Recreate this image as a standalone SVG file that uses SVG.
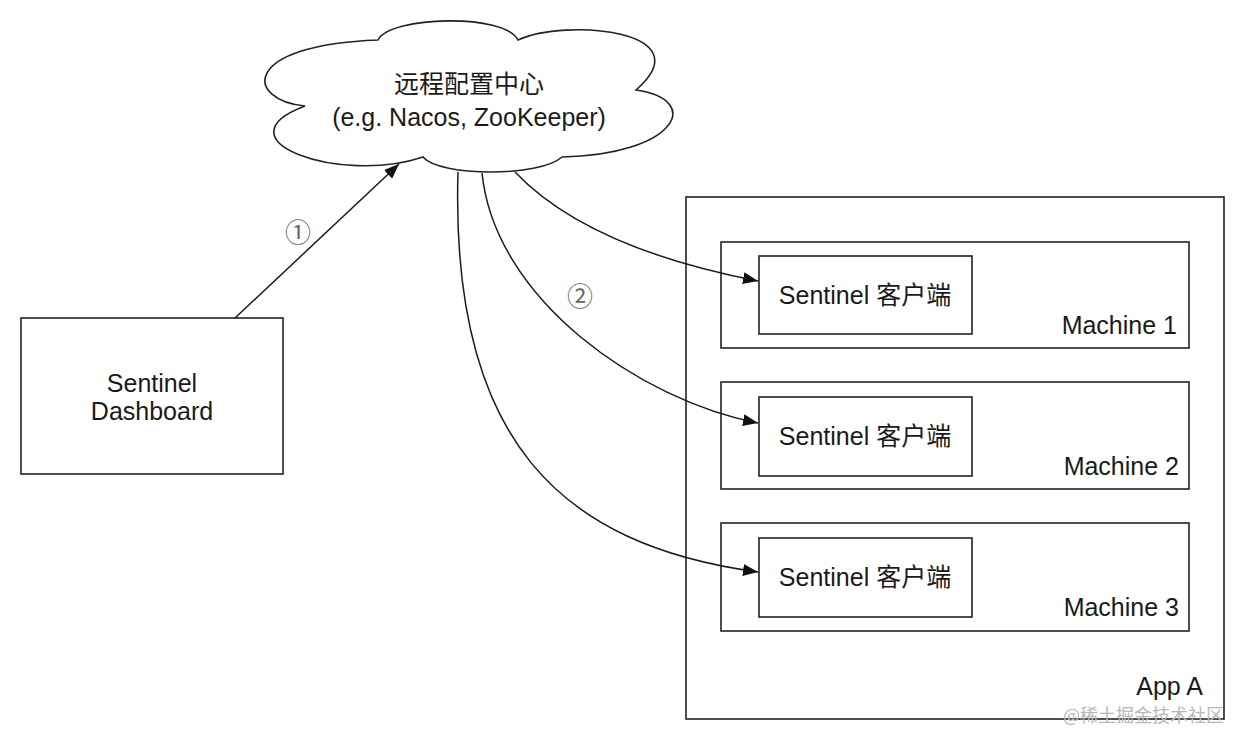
<svg xmlns="http://www.w3.org/2000/svg" width="1246" height="746" viewBox="0 0 1246 746">
<style>
.box{fill:#fff;stroke:#222;stroke-width:1.6}
.t{font-family:"Liberation Sans","Noto Sans CJK SC",sans-serif;font-size:25px;fill:#1a1a1a}
.c{text-anchor:middle}
.r{text-anchor:end}
.conn{fill:none;stroke:#1a1a1a;stroke-width:1.5}
.num{font-family:"Noto Sans CJK SC","DejaVu Sans",sans-serif;font-size:26px;fill:#666;text-anchor:middle}
.wm{font-family:"Noto Sans CJK SC",sans-serif;font-size:18px;fill:#b8b8b8}
</style>
<defs>
<marker id="arr" markerUnits="userSpaceOnUse" markerWidth="16" markerHeight="12" refX="15" refY="6" orient="auto">
<path d="M0,0 L15,6 L0,12 z" fill="#111"/>
</marker>
</defs>
<rect width="1246" height="746" fill="#fff"/>

<g id="app-a">
<rect class="box" x="686" y="197" width="538" height="522"/>
<text class="t r" x="1203" y="695">App A</text>
</g>

<g id="machine-1">
<rect class="box" x="721" y="242" width="468" height="106"/>
<text class="t r" x="1177" y="334">Machine 1</text>
</g>
<g id="client-1">
<rect class="box" x="759" y="256" width="213" height="78"/>
<text class="t c" x="865" y="304">Sentinel 客户端</text>
</g>

<g id="machine-2">
<rect class="box" x="721" y="382" width="468" height="107"/>
<text class="t r" x="1179" y="475">Machine 2</text>
</g>
<g id="client-2">
<rect class="box" x="759" y="397" width="213" height="79"/>
<text class="t c" x="865" y="445">Sentinel 客户端</text>
</g>

<g id="machine-3">
<rect class="box" x="721" y="523" width="468" height="108"/>
<text class="t r" x="1179" y="616">Machine 3</text>
</g>
<g id="client-3">
<rect class="box" x="759" y="538" width="213" height="79"/>
<text class="t c" x="865" y="586">Sentinel 客户端</text>
</g>

<g id="dashboard">
<rect class="box" x="21" y="318" width="262" height="156"/>
<text class="t c" x="152" y="392">Sentinel</text>
<text class="t c" x="152" y="420">Dashboard</text>
</g>

<g id="config-center">
<path class="box" d="M305,106 C245,100 240,45 378,40 C390,16 505,13 518,40 C565,18 705,30 636,90 C705,100 675,155 562,157 C540,177 440,177 423,157 C340,185 215,140 305,106 Z"/>
<text class="t c" x="469" y="93">远程配置中心</text>
<text class="t c" x="469" y="126">(e.g. Nacos, ZooKeeper)</text>
</g>

<g id="connectors">
<path class="conn" d="M235,318 L399,164" marker-end="url(#arr)"/>
<path class="conn" d="M515,172 C570,230 660,262 758,281" marker-end="url(#arr)"/>
<path class="conn" d="M482,173 C495,300 640,400 758,423" marker-end="url(#arr)"/>
<path class="conn" d="M458,172 C450,440 560,545 758,572" marker-end="url(#arr)"/>
<text class="num" x="298" y="242">①</text>
<text class="num" x="580" y="306">②</text>
</g>

<text class="wm" x="1063" y="722">@稀土掘金技术社区</text>
</svg>
